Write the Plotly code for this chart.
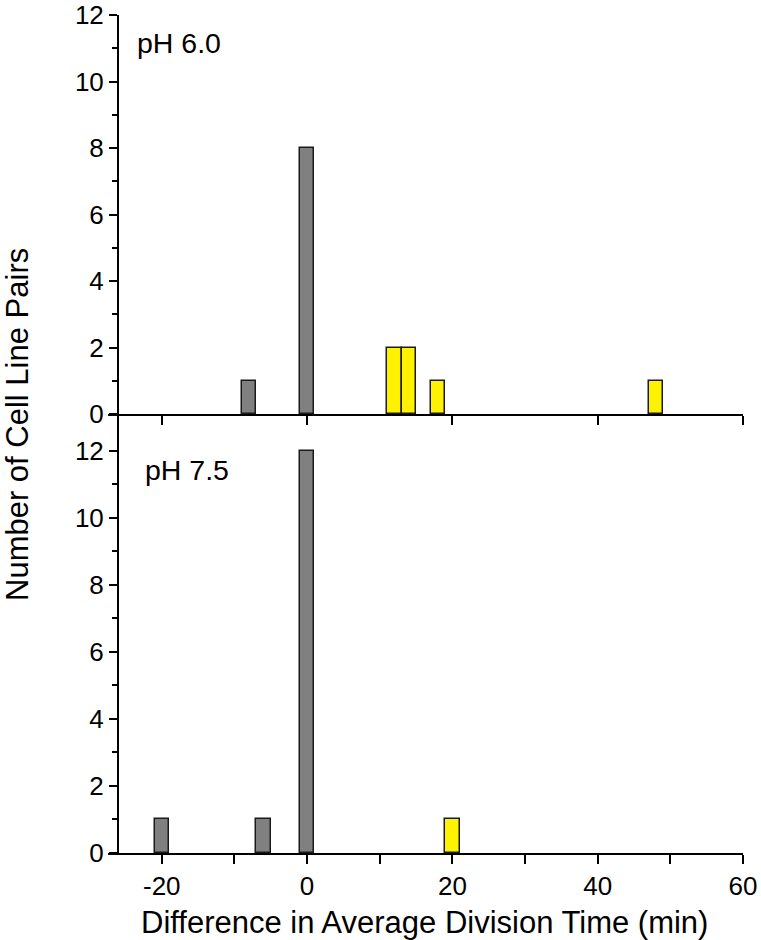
import plotly.graph_objects as go

# pH 6.0 panel (top)
top_gray_x = [-8, 0]
top_gray_y = [1, 8]
top_yellow_x = [12, 14, 18, 48]
top_yellow_y = [2, 2, 1, 1]

# pH 7.5 panel (bottom)
bot_gray_x = [-20, -6, 0]
bot_gray_y = [1, 1, 12]
bot_yellow_x = [20]
bot_yellow_y = [1]

x_ticks = [-20, 0, 20, 40, 60]
x_ticktext = ["-20", "0", "20", "40", "60"]
y_ticks = [0, 2, 4, 6, 8, 10, 12]
y_minor = [1, 3, 5, 7, 9, 11]
x_minor = [-10, 10, 30, 50]

GRAY = "#808080"
YELLOW = "#FFF200"
EDGE = "#1a1a1a"
BW = 2

FONT = "Liberation Sans, Arial, sans-serif"

fig = go.Figure()

def bars(x, y, color, xa, ya):
    fig.add_trace(go.Bar(x=x, y=y, width=BW, xaxis=xa, yaxis=ya,
                         marker=dict(color=color, line=dict(color=EDGE, width=1.5)),
                         showlegend=False, hoverinfo="x+y"))

bars(top_gray_x, top_gray_y, GRAY, "x2", "y2")
bars(top_yellow_x, top_yellow_y, YELLOW, "x2", "y2")
bars(bot_gray_x, bot_gray_y, GRAY, "x", "y")
bars(bot_yellow_x, bot_yellow_y, YELLOW, "x", "y")

L, R, T, B = 108, 18, 15, 87
W, H = 761, 940
PW = W - L - R
PH = H - T - B
xr = [-27.4, 60]
split = (853 - 414) / PH
ypos = (118 - L) / PW

axis_common = dict(showline=True, linecolor="black", linewidth=2, showgrid=False,
                   zeroline=False, ticks="outside", tickcolor="black", tickwidth=2,
                   automargin=False,
                   tickfont=dict(family=FONT, size=26, color="black"))

fig.update_layout(
    width=W, height=H,
    margin=dict(l=L, r=R, t=T, b=B, autoexpand=False),
    plot_bgcolor="white", paper_bgcolor="white",
    barmode="overlay", bargap=0,
    xaxis=dict(domain=[0, 1], range=xr, anchor="y", tickvals=x_ticks, ticktext=x_ticktext,
               ticklen=9,
               minor=dict(tickvals=x_minor, ticks="outside", ticklen=9, tickwidth=2, tickcolor="black"),
               **axis_common),
    xaxis2=dict(domain=[0, 1], range=xr, anchor="y2", matches="x", tickvals=x_ticks, ticklen=9,
                showticklabels=False, **axis_common),
    yaxis=dict(domain=[0, split], range=[0, 13.1], anchor="free", position=ypos,
               tickvals=y_ticks, ticklen=8,
               minor=dict(tickvals=y_minor, ticks="outside", ticklen=5, tickwidth=2, tickcolor="black"),
               **axis_common),
    yaxis2=dict(domain=[split, 1], range=[0, 12], anchor="free", position=ypos,
                tickvals=y_ticks, ticklen=8,
                minor=dict(tickvals=y_minor, ticks="outside", ticklen=5, tickwidth=2, tickcolor="black"),
                **axis_common),
    annotations=[
        dict(text="pH 6.0", xref="paper", yref="paper", x=(135 - L) / PW, y=(853 - 43) / PH,
             xanchor="left", yanchor="middle", showarrow=False,
             font=dict(family=FONT, size=28.5, color="black")),
        dict(text="pH 7.5", xref="paper", yref="paper", x=(143 - L) / PW, y=(853 - 470) / PH,
             xanchor="left", yanchor="middle", showarrow=False,
             font=dict(family=FONT, size=28.5, color="black")),
        dict(text="Difference in Average Division Time (min)", xref="paper", yref="paper",
             x=(424 - L) / PW, y=(853 - 922) / PH, xanchor="center", yanchor="middle", showarrow=False,
             font=dict(family=FONT, size=31, color="black")),
        dict(text="Number of Cell Line Pairs", xref="paper", yref="paper",
             x=(17 - L) / PW, y=(853 - 425) / PH, xanchor="center", yanchor="middle",
             textangle=-90, showarrow=False,
             font=dict(family=FONT, size=31, color="black")),
    ],
)

fig.write_html("out.html", config={"displayModeBar": False},
               post_script="document.body.style.margin='0';document.body.style.overflow='hidden';")
